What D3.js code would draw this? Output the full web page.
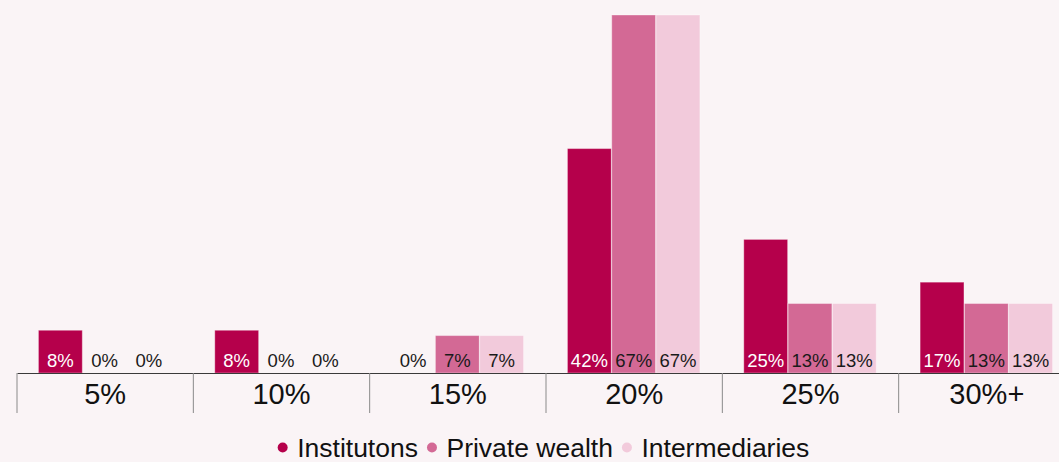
<!DOCTYPE html>
<html>
<head>
<meta charset="utf-8">
<script src="https://cdn.jsdelivr.net/npm/d3@7"></script>
<style>
  html, body { margin: 0; padding: 0; background: #faf4f6; }
  svg { display: block; font-family: "Liberation Sans", Arial, sans-serif; }
</style>
</head>
<body>
<svg id="chart" width="1059" height="462"></svg>
<script>
// Expected return buckets and share of respondents per investor type
const categories = ["5%", "10%", "15%", "20%", "25%", "30%+"];
const seriesNames = ["Institutons", "Private wealth", "Intermediaries"];
const institutions = [8, 8, 0, 42, 25, 17];
const privateWealth = [0, 0, 7, 67, 13, 13];
const intermediaries = [0, 0, 7, 67, 13, 13];
const colors = ["#b5004b", "#d36995", "#f2cadb"];
const labelColors = ["#ffffff", "#1a1a1a", "#1a1a1a"];

const seriesValues = [institutions, privateWealth, intermediaries];

const svg = d3.select("#chart");
const baseY = 373;

const x = d3.scaleBand().domain(categories).range([17, 1075]).paddingInner(0).paddingOuter(0);
const xi = d3.scaleBand().domain(seriesNames).range([21, x.bandwidth() - 22]).padding(0.01);
const y = d3.scaleLinear().domain([0, 67]).range([baseY, 15]);

const groups = svg.selectAll("g.cat")
  .data(categories)
  .join("g")
  .attr("class", "cat")
  .attr("transform", d => `translate(${x(d)},0)`);

groups.each(function(cat, ci) {
  const g = d3.select(this);
  seriesNames.forEach((s, si) => {
    const v = seriesValues[si][ci];
    if (v > 0) {
      g.append("rect")
        .attr("x", xi(s))
        .attr("y", y(v))
        .attr("width", xi.bandwidth())
        .attr("height", baseY - y(v))
        .attr("fill", colors[si])
        .attr("stroke", "#ffffff")
        .attr("stroke-opacity", 0.35)
        .attr("stroke-width", 1);
    }
    g.append("text")
      .attr("x", xi(s) + xi.bandwidth() / 2)
      .attr("y", baseY - 6)
      .attr("text-anchor", "middle")
      .attr("font-size", 18.5)
      .attr("fill", v > 0 ? labelColors[si] : "#1a1a1a")
      .text(v + "%");
  });
});

// Category axis with vertical separators
const axis = svg.append("g").attr("transform", `translate(0,${baseY})`)
  .call(d3.axisBottom(x).tickSize(0).tickPadding(0));
axis.select(".domain").attr("stroke", "#3a3a3a").attr("stroke-width", 1.2);
axis.selectAll(".tick text")
  .attr("dy", null)
  .attr("y", 31)
  .attr("font-size", 29)
  .attr("fill", "#111111")
  .attr("font-family", "Liberation Sans, Arial, sans-serif");

svg.append("g").selectAll("line")
  .data(categories)
  .join("line")
  .attr("x1", d => x(d)).attr("x2", d => x(d))
  .attr("y1", baseY).attr("y2", 413)
  .attr("stroke", "#8a8a8a")
  .attr("stroke-width", 1);

// Legend: dot + label per series, centred as a row
const legend = svg.append("g");
const items = legend.selectAll("g")
  .data(seriesNames)
  .join("g");
items.append("circle")
  .attr("r", 5)
  .attr("cy", 447.5)
  .attr("fill", (d, i) => colors[i]);
items.append("text")
  .attr("y", 456.5)
  .attr("font-size", 26.5)
  .attr("fill", "#111111")
  .text(d => d);

let cursor = 0;
items.each(function() {
  const it = d3.select(this);
  const w = it.select("text").node().getComputedTextLength();
  it.select("circle").attr("cx", cursor + 5);
  it.select("text").attr("x", cursor + 19.5);
  cursor += 19.5 + w + 9;
});
const total = cursor - 9;
legend.attr("transform", `translate(${(272 + 815) / 2 - total / 2},0)`);
</script>
</body>
</html>
